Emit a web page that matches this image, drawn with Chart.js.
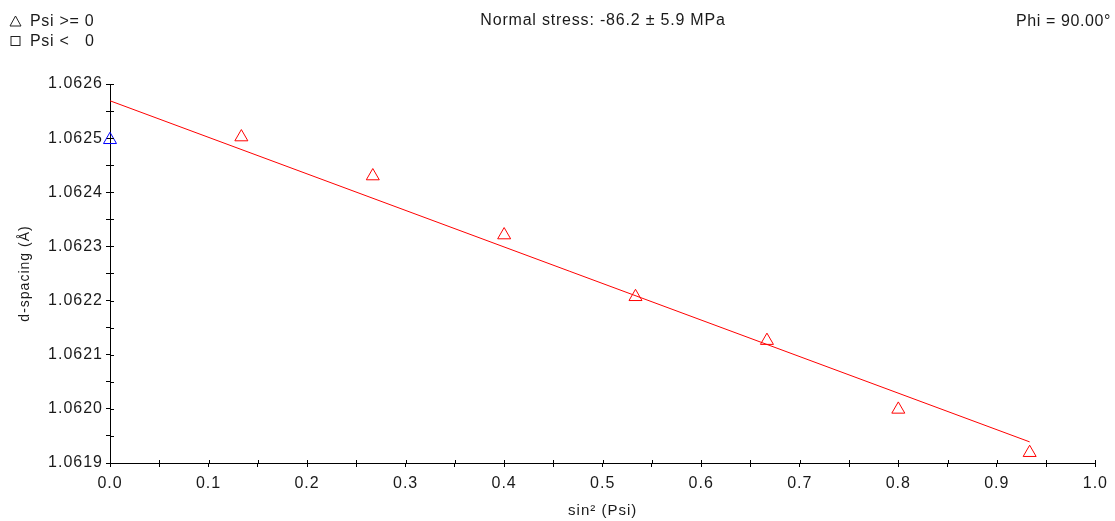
<!DOCTYPE html>
<html>
<head>
<meta charset="utf-8">
<script src="https://cdn.jsdelivr.net/npm/chart.js@4"></script>
<style>
  html, body { margin: 0; padding: 0; background: #fff; }
  #wrap { position: relative; width: 1115px; height: 521px; font-family: "Liberation Sans", Arial, sans-serif; color: #1a1a1a; }
  #wrap canvas { position: absolute; left: 0; top: 0; }
  .hdr { position: absolute; font-size: 16px; line-height: 18px; letter-spacing: 0.8px; white-space: nowrap; }
  .leg { position: absolute; left: 9px; font-size: 16px; line-height: 18px; letter-spacing: 0.7px; white-space: nowrap; }
  .leg svg { vertical-align: -1px; margin-right: 8px; }
</style>
</head>
<body>
<div id="wrap">
  <canvas id="chart" width="1115" height="521"></canvas>
  <div class="leg" style="top:12px"><svg width="13" height="12"><polygon points="6.5,1 12,11 1,11" fill="none" stroke="#222" stroke-width="1"/></svg>Psi &gt;= 0</div>
  <div class="leg" style="top:32px"><svg width="13" height="12"><rect x="2" y="1.5" width="9" height="9" fill="none" stroke="#222" stroke-width="1"/></svg>Psi &lt;&nbsp;&nbsp;&nbsp;0</div>
  <div class="hdr" style="left:0; width:1206px; text-align:center; top:11px">Normal stress: -86.2 ± 5.9 MPa</div>
  <div class="hdr" style="right:4px; top:12px; letter-spacing:0.6px">Phi = 90.00°</div>
</div>
<script>
// sin^2(psi) positions and measured d-spacing (Angstrom)
const sin2Psi = [0, 0.1333, 0.2667, 0.4, 0.5333, 0.6667, 0.8, 0.9333];
const dSpacing = [1.062497, 1.062502, 1.062430, 1.062321, 1.062207, 1.062126, 1.061999, 1.061919];
// first point drawn in blue, rest red
const blueIdx = [0];
// fitted line end points
const fitX = [0, 0.9333];
const fitY = [1.062569, 1.061939];

const yMin = 1.0619, yMax = 1.0626;
const xMin = 0, xMax = 1.0;

const redPts = [], bluePts = [];
sin2Psi.forEach((x, i) => {
  (blueIdx.includes(i) ? bluePts : redPts).push({ x: x, y: dSpacing[i] });
});
const fitPts = fitX.map((x, i) => ({ x: x, y: fitY[i] }));

const isMajor = (v, step) => Math.abs(v / step - Math.round(v / step)) < 1e-6;

// the original text is a bit spaced out, widen canvas text a little
const spacedText = {
  id: 'spacedText',
  beforeLayout(chart) { chart.ctx.letterSpacing = '1px'; },
  beforeDraw(chart) { chart.ctx.letterSpacing = '1px'; }
};

// small tick stubs on the inside of the axes, like the original plot
const innerTicks = {
  id: 'innerTicks',
  afterDraw(chart) {
    const ctx = chart.ctx;
    const xs = chart.scales.x, ys = chart.scales.y;
    ctx.save();
    ctx.strokeStyle = '#000';
    ctx.lineWidth = 1;
    ctx.beginPath();
    xs.ticks.forEach(t => {
      const px = Math.round(xs.getPixelForValue(t.value)) + 0.5;
      ctx.moveTo(px, xs.top);
      ctx.lineTo(px, xs.top - 3);
    });
    ys.ticks.forEach(t => {
      const py = Math.round(ys.getPixelForValue(t.value)) + 0.5;
      ctx.moveTo(ys.right, py);
      ctx.lineTo(ys.right + 4, py);
    });
    ctx.stroke();
    ctx.restore();
  }
};

new Chart(document.getElementById('chart'), {
  type: 'scatter',
  data: {
    datasets: [
      {
        label: 'fit',
        data: fitPts,
        showLine: true,
        borderColor: '#ff0000',
        borderWidth: 1,
        pointRadius: 0,
        order: 2
      },
      {
        label: 'Psi >= 0',
        data: redPts,
        pointStyle: 'triangle',
        pointRadius: 7.5,
        borderColor: '#ff0000',
        backgroundColor: 'rgba(0,0,0,0)',
        borderWidth: 1,
        clip: false,
        order: 1
      },
      {
        label: 'Psi >= 0 (first)',
        data: bluePts,
        pointStyle: 'triangle',
        pointRadius: 7.5,
        borderColor: '#0000ff',
        backgroundColor: 'rgba(0,0,0,0)',
        borderWidth: 1,
        clip: false,
        order: 0
      }
    ]
  },
  options: {
    responsive: false,
    animation: false,
    layout: { padding: { top: 84, right: 19, left: 0, bottom: 0 } },
    plugins: { legend: { display: false }, tooltip: { enabled: false } },
    scales: {
      x: {
        type: 'linear',
        min: xMin,
        max: xMax,
        afterFit: (s) => { s.height = 58; },
        border: { color: '#000', width: 1 },
        grid: { drawOnChartArea: false, tickLength: 4, color: '#000' },
        ticks: {
          stepSize: 0.05,
          autoSkip: false,
          maxRotation: 0,
          padding: 7,
          color: '#1a1a1a',
          font: { family: 'Liberation Sans', size: 16 },
          callback: (v) => isMajor(v, 0.1) ? v.toFixed(1) : ''
        },
        title: {
          display: true,
          text: 'sin² (Psi)',
          color: '#1a1a1a',
          font: { family: 'Liberation Sans', size: 15 },
          padding: { top: 0, bottom: 1 }
        }
      },
      y: {
        type: 'linear',
        min: yMin,
        max: yMax,
        afterFit: (s) => { s.width = 110; },
        border: { color: '#000', width: 1 },
        grid: { drawOnChartArea: false, tickLength: 4, color: '#000' },
        ticks: {
          stepSize: 0.00005,
          autoSkip: false,
          padding: 3,
          color: '#1a1a1a',
          font: { family: 'Liberation Sans', size: 16 },
          callback: (v) => isMajor(v, 0.0001) ? v.toFixed(4) : ''
        },
        title: {
          display: true,
          text: 'd-spacing (Å)',
          color: '#1a1a1a',
          font: { family: 'Liberation Sans', size: 14 },
          padding: { top: 17, bottom: 0 }
        }
      }
    }
  },
  plugins: [spacedText, innerTicks]
});
</script>
</body>
</html>
